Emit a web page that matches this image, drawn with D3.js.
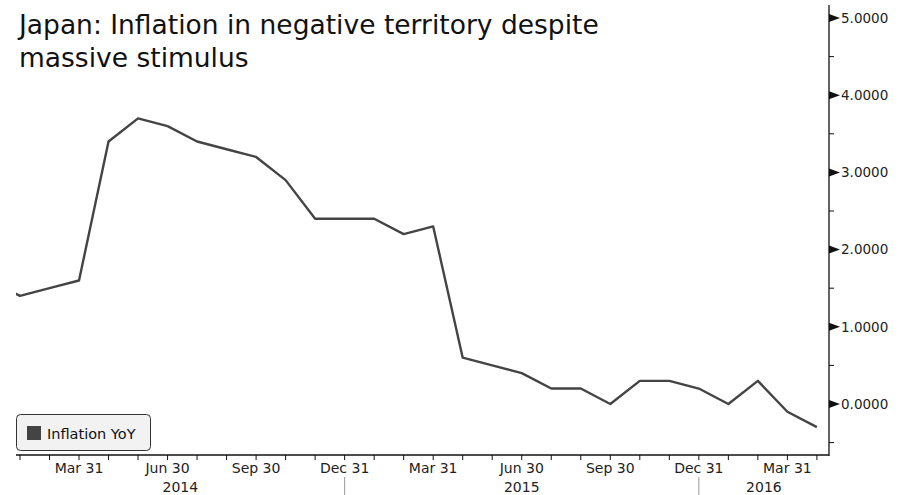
<!DOCTYPE html>
<html>
<head>
<meta charset="utf-8">
<script src="https://cdn.jsdelivr.net/npm/d3@7"></script>
<style>
  body { margin: 0; background: #fff; }
  svg { display: block; font-family: "DejaVu Sans", sans-serif; }
</style>
</head>
<body>
<div id="chart"></div>
<script>
(function () {
  // monthly CPI YoY, Dec 2013 .. Apr 2016 (index 0 = Dec 2013)
  const months = ["2013-12","2014-01","2014-02","2014-03","2014-04","2014-05","2014-06","2014-07",
    "2014-08","2014-09","2014-10","2014-11","2014-12","2015-01","2015-02","2015-03","2015-04",
    "2015-05","2015-06","2015-07","2015-08","2015-09","2015-10","2015-11","2015-12","2016-01",
    "2016-02","2016-03","2016-04"];
  const inflation = [1.6, 1.4, 1.5, 1.6, 3.4, 3.7, 3.6, 3.4, 3.3, 3.2, 2.9, 2.4, 2.4, 2.4, 2.2, 2.3,
    0.6, 0.5, 0.4, 0.2, 0.2, 0.0, 0.3, 0.3, 0.2, 0.0, 0.3, -0.1, -0.3];
  const quarterLabels = { "03": "Mar 31", "06": "Jun 30", "09": "Sep 30", "12": "Dec 31" };
  const years = ["2014", "2015", "2016"];
  const yTicks = [0, 1, 2, 3, 4, 5];
  const yMinor = [-0.5, 0.5, 1.5, 2.5, 3.5, 4.5];

  const width = 903, height = 495;
  const left = 16, right = 829, top = 5, bottom = 455;

  const svg = d3.select("#chart").append("svg")
    .attr("width", width).attr("height", height);

  // month index -> x (month-end positions, equally spaced)
  const x = d3.scaleLinear().domain([0.865, 28.41]).range([left, right]);
  const y = d3.scaleLinear().domain([0, 5]).range([404, 18]);

  // title
  const title = svg.append("text")
    .attr("x", 19).attr("y", 34)
    .style("font-size", "26.5px").style("fill", "#111");
  title.append("tspan").attr("x", 19).text("Japan: Inflation in negative territory despite");
  title.append("tspan").attr("x", 19).attr("dy", 33).text("massive stimulus");

  svg.append("clipPath").attr("id", "plotclip")
    .append("rect").attr("x", left).attr("y", top).attr("width", right - left).attr("height", bottom - top);

  // line
  const line = d3.line()
    .x((d, i) => x(i))
    .y(d => y(d));

  svg.append("path")
    .datum(inflation)
    .attr("clip-path", "url(#plotclip)")
    .attr("fill", "none")
    .attr("stroke", "#444")
    .attr("stroke-width", 2.4)
    .attr("stroke-linejoin", "round")
    .attr("d", line);

  // right axis
  svg.append("line")
    .attr("x1", right).attr("x2", right).attr("y1", top).attr("y2", bottom + 1)
    .attr("stroke", "#111").attr("stroke-width", 1.3);

  yTicks.forEach(v => {
    const yy = y(v);
    svg.append("path")
      .attr("d", `M${right},${yy - 4}L${right + 11},${yy}L${right},${yy + 4}Z`)
      .attr("fill", "#111");
    svg.append("text")
      .attr("x", right + 12).attr("y", yy).attr("dy", "0.36em")
      .style("font-size", "13.5px").style("fill", "#222")
      .text(d3.format(".4f")(v));
  });
  yMinor.forEach(v => {
    svg.append("line")
      .attr("x1", right).attr("x2", right + 5).attr("y1", y(v)).attr("y2", y(v))
      .attr("stroke", "#111").attr("stroke-width", 1);
  });

  // bottom axis
  svg.append("line")
    .attr("x1", left).attr("x2", right).attr("y1", bottom).attr("y2", bottom)
    .attr("stroke", "#111").attr("stroke-width", 1.3);

  months.forEach((m, i) => {
    const xx = x(i);
    if (xx < left || xx > right) return;
    svg.append("line")
      .attr("x1", xx).attr("x2", xx).attr("y1", bottom).attr("y2", bottom + 5)
      .attr("stroke", "#111").attr("stroke-width", 1);
    const mm = m.slice(5);
    if (quarterLabels[mm]) {
      svg.append("text")
        .attr("x", xx).attr("y", 473)
        .attr("text-anchor", "middle")
        .style("font-size", "14px").style("fill", "#222")
        .text(quarterLabels[mm]);
    }
  });

  // year labels and separators (separators at Dec 31)
  const yearBounds = [left, x(12), x(24), right];
  years.forEach((yr, i) => {
    svg.append("text")
      .attr("x", (yearBounds[i] + yearBounds[i + 1]) / 2).attr("y", 492)
      .attr("text-anchor", "middle")
      .style("font-size", "14px").style("fill", "#222")
      .text(yr);
  });
  [x(12), x(24)].forEach(xx => {
    svg.append("line")
      .attr("x1", xx).attr("x2", xx).attr("y1", 477).attr("y2", 495)
      .attr("stroke", "#999").attr("stroke-width", 1);
  });

  // legend
  const lg = svg.append("g");
  lg.append("rect")
    .attr("x", 16.5).attr("y", 414.5).attr("width", 134).attr("height", 36)
    .attr("rx", 4)
    .attr("fill", "#f2f2f2").attr("stroke", "#333").attr("stroke-width", 1);
  lg.append("rect")
    .attr("x", 27).attr("y", 426).attr("width", 14).attr("height", 14)
    .attr("fill", "#444");
  lg.append("text")
    .attr("x", 47).attr("y", 439)
    .style("font-size", "14.5px").style("fill", "#111")
    .text("Inflation YoY");
})();
</script>
</body>
</html>
